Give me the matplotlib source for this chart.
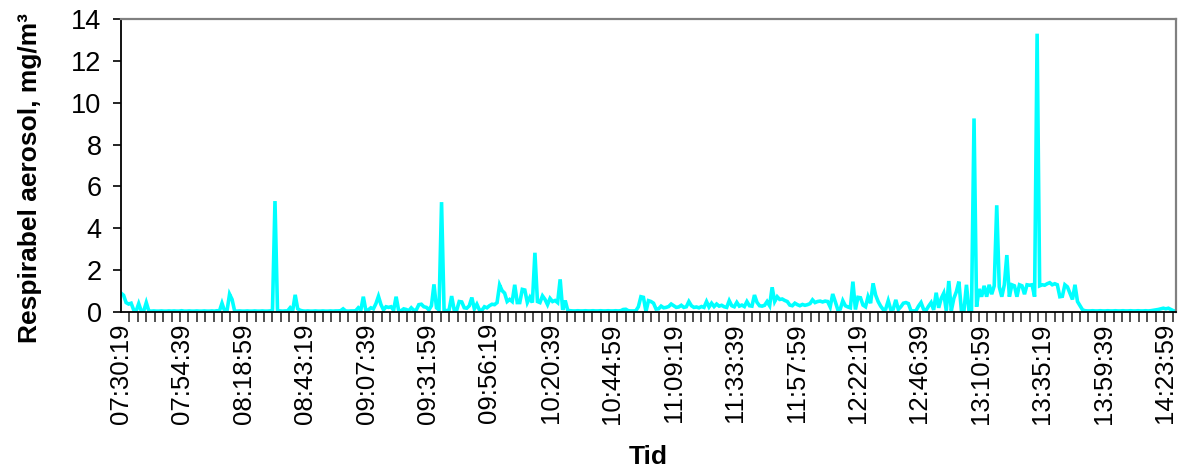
import matplotlib
matplotlib.use("Agg")
import matplotlib.pyplot as plt
import numpy as np

plt.rcParams['font.family'] = ['Liberation Sans', 'DejaVu Sans']

# start of logging (seconds after midnight, 07:30:19) and sample step in seconds
start_sec = 7 * 3600 + 30 * 60 + 19
step_sec = 60

# respirable aerosol, mg/m3, one value per minute
aerosol = [
    0.90, 0.80, 0.45, 0.38, 0.42, 0.10, 0.05, 0.40, 0.05, 0.05,
    0.45, 0.05, 0.04, 0.05, 0.04, 0.04, 0.05, 0.04, 0.04, 0.05,
    0.04, 0.05, 0.04, 0.04, 0.06, 0.04, 0.04, 0.05, 0.04, 0.04,
    0.05, 0.04, 0.04, 0.05, 0.04, 0.04, 0.05, 0.04, 0.06, 0.05,
    0.42, 0.06, 0.06, 0.85, 0.60, 0.05, 0.04, 0.05, 0.04, 0.04,
    0.05, 0.04, 0.04, 0.05, 0.04, 0.04, 0.05, 0.04, 0.04, 0.05,
    0.05, 5.30, 0.06, 0.05, 0.04, 0.05, 0.05, 0.20, 0.05, 0.82,
    0.15, 0.08, 0.05, 0.04, 0.05, 0.04, 0.04, 0.05, 0.04, 0.04,
    0.05, 0.04, 0.04, 0.05, 0.04, 0.05, 0.05, 0.06, 0.15, 0.05,
    0.04, 0.05, 0.05, 0.06, 0.20, 0.08, 0.73, 0.08, 0.10, 0.20,
    0.15, 0.40, 0.75, 0.35, 0.10, 0.25, 0.22, 0.25, 0.08, 0.73,
    0.07, 0.06, 0.15, 0.12, 0.06, 0.20, 0.08, 0.10, 0.35, 0.37,
    0.25, 0.22, 0.10, 0.30, 1.32, 0.20, 0.10, 5.25, 0.10, 0.06,
    0.10, 0.76, 0.10, 0.08, 0.50, 0.48, 0.20, 0.18, 0.30, 0.69,
    0.15, 0.37, 0.10, 0.08, 0.25, 0.20, 0.30, 0.37, 0.35, 0.45,
    1.29, 1.02, 0.90, 0.50, 0.60, 0.50, 1.30, 0.45, 0.45, 1.08,
    1.05, 0.45, 0.70, 0.45, 2.83, 0.50, 0.45, 0.77, 0.60, 0.35,
    0.65, 0.50, 0.55, 0.45, 1.56, 0.10, 0.55, 0.08, 0.06, 0.05,
    0.05, 0.06, 0.05, 0.05, 0.06, 0.05, 0.05, 0.06, 0.05, 0.05,
    0.06, 0.05, 0.05, 0.06, 0.05, 0.05, 0.06, 0.05, 0.06, 0.12,
    0.13, 0.06, 0.05, 0.05, 0.06, 0.25, 0.73, 0.70, 0.02, 0.54,
    0.50, 0.42, 0.14, 0.15, 0.28, 0.20, 0.22, 0.26, 0.38, 0.30,
    0.22, 0.24, 0.32, 0.22, 0.25, 0.50, 0.30, 0.22, 0.24, 0.20,
    0.26, 0.22, 0.50, 0.24, 0.42, 0.26, 0.38, 0.28, 0.32, 0.25,
    0.22, 0.54, 0.30, 0.25, 0.46, 0.28, 0.33, 0.26, 0.50, 0.30,
    0.28, 0.81, 0.46, 0.30, 0.28, 0.32, 0.50, 0.30, 1.18, 0.50,
    0.73, 0.60, 0.62, 0.55, 0.50, 0.33, 0.30, 0.42, 0.35, 0.30,
    0.36, 0.32, 0.35, 0.40, 0.58, 0.45, 0.50, 0.52, 0.48, 0.52,
    0.50, 0.24, 0.86, 0.50, 0.12, 0.14, 0.54, 0.30, 0.24, 0.20,
    1.45, 0.12, 0.70, 0.68, 0.33, 0.25, 0.73, 0.42, 1.37, 0.81,
    0.50, 0.28, 0.12, 0.14, 0.54, 0.12, 0.14, 0.58, 0.12, 0.25,
    0.42, 0.45, 0.40, 0.06, 0.05, 0.06, 0.28, 0.45, 0.13, 0.08,
    0.28, 0.45, 0.10, 0.92, 0.20, 0.65, 0.90, 0.06, 1.48, 0.06,
    0.65, 0.97, 1.45, 0.06, 0.06, 1.30, 0.06, 0.05, 9.25, 0.25,
    1.10, 0.73, 1.25, 0.73, 1.30, 0.85, 1.25, 5.10, 1.20, 0.73,
    1.30, 2.72, 0.73, 1.30, 1.25, 0.73, 1.30, 1.25, 0.85, 1.30,
    1.28, 1.30, 0.73, 13.30, 1.25, 1.30, 1.28, 1.35, 1.40, 1.30,
    1.35, 1.30, 0.73, 0.75, 1.30, 1.20, 0.90, 0.60, 1.30, 0.50,
    0.30, 0.10, 0.06, 0.05, 0.05, 0.06, 0.05, 0.05, 0.06, 0.05,
    0.05, 0.06, 0.05, 0.05, 0.06, 0.05, 0.05, 0.06, 0.05, 0.05,
    0.06, 0.05, 0.05, 0.06, 0.05, 0.05, 0.06, 0.05, 0.06, 0.08,
    0.10, 0.12, 0.15, 0.18, 0.15, 0.18, 0.12, 0.06, 0.04,
]

# axis labels every 24 min 20 s, as in the original workbook
tick_labels = ["07:30:19", "07:54:39", "08:18:59", "08:43:19", "09:07:39",
               "09:31:59", "09:56:19", "10:20:39", "10:44:59", "11:09:19",
               "11:33:39", "11:57:59", "12:22:19", "12:46:39", "13:10:59",
               "13:35:19", "13:59:39", "14:23:59"]


def to_sec(s):
    h, m, sec = s.split(":")
    return int(h) * 3600 + int(m) * 60 + int(sec)


t = start_sec + step_sec * np.arange(len(aerosol))

fig = plt.figure(figsize=(11.89, 4.72), dpi=100)
ax = fig.add_axes([0.1018, 0.339, 0.8872, 0.6207])

ax.plot(t, aerosol, color="#00FFFF", lw=2.6, solid_joinstyle="miter")

ax.set_xlim(t[0], t[-1])
ax.set_ylim(0, 14)
ax.set_yticks(np.arange(0, 15, 2))

ax.set_xticks([to_sec(s) for s in tick_labels])
ax.set_xticklabels(tick_labels, rotation=90)
ax.set_xticks(np.arange(t[0], t[-1], 200), minor=True)

ax.tick_params(axis="x", which="major", length=0, pad=8, labelsize=18.5)
ax.tick_params(axis="x", which="minor", direction="out", length=7,
               width=1.2, color="#333333")
ax.tick_params(axis="y", direction="out", length=6, width=1.2,
               pad=8, labelsize=19.5)

for side in ["top", "right"]:
    ax.spines[side].set_color("#808080")
    ax.spines[side].set_linewidth(1.6)
for side in ["left", "bottom"]:
    ax.spines[side].set_color("black")
    ax.spines[side].set_linewidth(1.3)

ax.set_ylabel("Respirabel aerosol, mg/m³", fontsize=19, fontweight="bold")
ax.yaxis.set_label_coords(-0.075, 0.457)
ax.set_xlabel("Tid", fontsize=19, fontweight="bold")
ax.xaxis.set_label_coords(0.5, -0.455)

fig.savefig("out.png", dpi=100)
